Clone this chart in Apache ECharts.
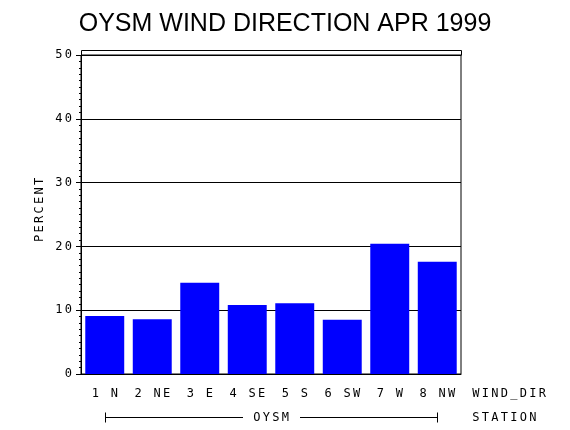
<!DOCTYPE html>
<html>
<head>
<meta charset="utf-8">
<script src="https://cdn.jsdelivr.net/npm/echarts@6/dist/echarts.min.js"></script>
<style>
html,body{margin:0;padding:0;background:#fff;}
#chart{width:570px;height:430px;}
</style>
</head>
<body>
<div id="chart"></div>
<script>
// ---- data ----
var categories = ['1 N', '2 NE', '3 E', '4 SE', '5 S', '6 SW', '7 W', '8 NW'];
var percent = [9.1, 8.6, 14.3, 10.8, 11.1, 8.5, 20.4, 17.6];
var yTicks = [0, 10, 20, 30, 40, 50];
var titleText = 'OYSM WIND DIRECTION APR 1999';
var xAxisTitle = 'WIND_DIR';
var groupTitle = 'STATION';
var stationName = 'OYSM';
var yAxisTitle = 'PERCENT';

// ---- layout ----
var GL = 81, GR = 109, GT = 55, GB = 56;
var CELL = 9.5;
var MONO = '"DejaVu Sans Mono", "Liberation Mono", monospace';

function spaced(s) {
  return String(s).split('').map(function (c) { return '{c|' + c + '}'; }).join('');
}
var richCell = { c: { width: CELL, align: 'center', fontFamily: MONO, fontSize: 12, lineHeight: 13, color: '#000' } };

var chart = echarts.init(document.getElementById('chart'), null, { renderer: 'canvas' });

chart.setOption({
  animation: false,
  backgroundColor: '#fff',
  title: {
    text: titleText,
    left: 'center',
    top: 7,
    textStyle: { fontFamily: '"Liberation Sans", Arial, sans-serif', fontSize: 25, fontWeight: 'normal', color: '#000' }
  },
  grid: { left: GL, right: GR, top: GT, bottom: GB, show: true, borderColor: '#000', borderWidth: 1, containLabel: false },
  xAxis: {
    type: 'category',
    data: categories,
    boundaryGap: true,
    axisLine: { lineStyle: { color: '#000', width: 1 } },
    axisTick: { show: false },
    axisLabel: { interval: 0, margin: 13, formatter: function (v) { return spaced(v); }, rich: richCell }
  },
  yAxis: {
    type: 'value',
    min: yTicks[0],
    max: yTicks[yTicks.length - 1],
    interval: yTicks[1] - yTicks[0],
    axisLine: { show: true, lineStyle: { color: '#000', width: 1 } },
    axisTick: { show: true, inside: false, length: 5, lineStyle: { color: '#000' } },
    minorTick: { show: true, splitNumber: 10, length: 2, lineStyle: { color: '#000' } },
    splitLine: { show: true, lineStyle: { color: '#000', width: 1 } },
    axisLabel: { margin: 8, formatter: function (v) { return spaced(v); }, rich: richCell }
  },
  series: [{
    type: 'bar',
    data: percent,
    barCategoryGap: '18%',
    itemStyle: { color: '#0000ff' }
  }]
});

// ---- decorations derived from axes ----
var y0 = chart.convertToPixel({ yAxisIndex: 0 }, 0);
var y50 = chart.convertToPixel({ yAxisIndex: 0 }, 50);
var yTop = chart.convertToPixel({ yAxisIndex: 0 }, 50.8);
var L = GL, R = 570 - GR;
var xFirst = chart.convertToPixel({ xAxisIndex: 0 }, categories[0]);
var xLast = chart.convertToPixel({ xAxisIndex: 0 }, categories[categories.length - 1]);
var xMid = (xFirst + xLast) / 2;
var half = (stationName.length + 2) * CELL / 2;
var yB = 417.5;
function px(v) { return Math.round(v) + 0.5; }
var lineStyle = { stroke: '#000', lineWidth: 1, fill: null };

chart.setOption({
  graphic: [
    { type: 'polyline', silent: true, shape: { points: [[px(L), px(y50)], [px(L), px(yTop)], [px(R), px(yTop)], [px(R), px(y50)]] }, style: lineStyle },
    { type: 'line', silent: true, shape: { x1: px(xFirst), y1: yB, x2: Math.round(xMid - half), y2: yB }, style: lineStyle },
    { type: 'line', silent: true, shape: { x1: Math.round(xMid + half), y1: yB, x2: px(xLast), y2: yB }, style: lineStyle },
    { type: 'line', silent: true, shape: { x1: px(xFirst), y1: yB - 5, x2: px(xFirst), y2: yB + 5 }, style: lineStyle },
    { type: 'line', silent: true, shape: { x1: px(xLast), y1: yB - 5, x2: px(xLast), y2: yB + 5 }, style: lineStyle },
    { type: 'text', silent: true, x: xMid, y: yB, style: { text: spaced(stationName), rich: richCell, align: 'center', verticalAlign: 'middle' } },
    { type: 'text', silent: true, x: R + 10, y: y0 + 20, style: { text: spaced(xAxisTitle), rich: richCell, align: 'left', verticalAlign: 'middle' } },
    { type: 'text', silent: true, x: R + 10, y: yB, style: { text: spaced(groupTitle), rich: richCell, align: 'left', verticalAlign: 'middle' } },
    { type: 'text', silent: true, x: 40, y: 210, rotation: Math.PI / 2, style: { text: spaced(yAxisTitle), rich: richCell, align: 'center', verticalAlign: 'middle' } }
  ]
});
</script>
</body>
</html>
